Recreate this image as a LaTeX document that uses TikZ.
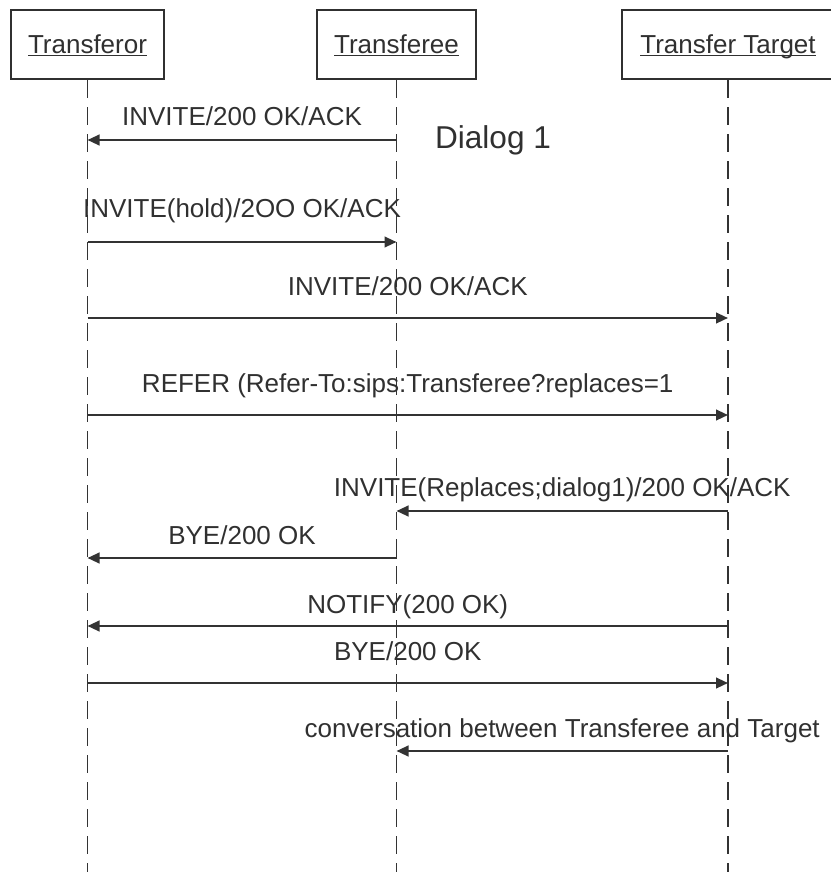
\documentclass[tikz,border=0pt]{standalone}
\usepackage{fontspec}
\setmainfont{Liberation Sans}
\usetikzlibrary{arrows.meta}
\definecolor{inkgray}{HTML}{303030}
\definecolor{linegray}{HTML}{333333}
\newcommand{\msgfont}{\fontsize{19.5pt}{23pt}\selectfont}
\newcommand{\actorname}[1]{\underline{\raisebox{0pt}[\height][0pt]{#1}}}
\tikzset{
  actor box/.style={
    draw=inkgray,
    line width=1.6pt,
    fill=white,
    minimum height=51.75pt,
    inner sep=0pt,
    text height=14pt,
    text depth=1.2pt,
    font=\msgfont,
    text=inkgray
  },
  life line/.style={
    draw=linegray,
    line width=1.1pt,
    dash pattern=on 13.5pt off 6.75pt
  },
  msg/.style={
    draw=linegray,
    line width=1.6pt,
    -{Triangle[length=9pt, width=8pt]}
  },
  msg label/.style={
    font=\msgfont,
    text=inkgray,
    anchor=base,
    inner sep=0pt
  }
}

\begin{document}
\begin{tikzpicture}[x=0.75pt, y=-0.75pt]
  \useasboundingbox (0,0) rectangle (831,872);

  %% ---- actors ----
  \node[actor box, minimum width=114.75pt] (tor) at (87.5,44.5) {\actorname{Transferor}};
  \node[actor box, minimum width=119.25pt] (tee) at (396.5,44.5) {\actorname{Transferee}};
  \node[actor box, minimum width=159pt]    (tgt) at (728,44.5)   {\actorname{Transfer Target}};

  %% ---- life lines ----
  \foreach \a in {tor,tee,tgt} {
    \coordinate (\a end) at (\a.south |- 0,872);
    \draw[life line] (\a.south) -- (\a end);
  }

  %% ---- messages ----
  \draw[msg] (tee |- 0,140) -- (tor |- 0,140)
    node[msg label, midway, yshift=11.25pt] {INVITE/200 OK/ACK};
  \node[msg label, font=\fontsize{23.7pt}{28pt}\selectfont] (dlg) at (493,148) {Dialog 1};

  \draw[msg] (tor |- 0,242) -- (tee |- 0,242)
    node[msg label, midway, yshift=18.75pt] {INVITE(hold)/2OO OK/ACK};

  \draw[msg] (tor |- 0,318) -- (tgt |- 0,318)
    node[msg label, midway, yshift=17.25pt] {INVITE/200 OK/ACK};

  \draw[msg] (tor |- 0,415) -- (tgt |- 0,415)
    node[msg label, midway, yshift=17.25pt] {REFER (Refer-To:sips:Transferee?replaces=1};

  \draw[msg] (tgt |- 0,511) -- (tee |- 0,511)
    node[msg label, midway, yshift=11.25pt] {INVITE(Replaces;dialog1)/200 OK/ACK};

  \draw[msg] (tee |- 0,558) -- (tor |- 0,558)
    node[msg label, midway, yshift=10pt] {BYE/200 OK};

  \draw[msg] (tgt |- 0,626) -- (tor |- 0,626)
    node[msg label, midway, yshift=9.75pt] {NOTIFY(200 OK)};

  \draw[msg] (tor |- 0,683) -- (tgt |- 0,683)
    node[msg label, midway, yshift=17.25pt] {BYE/200 OK};

  \draw[msg] (tgt |- 0,751) -- (tee |- 0,751)
    node[msg label, midway, yshift=10.5pt] {conversation between Transferee and Target};

\end{tikzpicture}
\end{document}
